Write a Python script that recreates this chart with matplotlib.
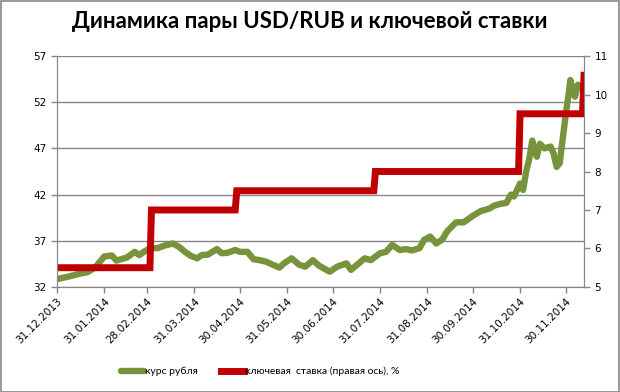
import pandas as pd
import matplotlib
matplotlib.use('Agg')
import matplotlib.pyplot as plt
import matplotlib.dates as mdates
from matplotlib.patches import Rectangle

# USD/RUB rate
usd_dates = ['2013-12-31', '2014-01-07', '2014-01-14', '2014-01-20', '2014-01-25', '2014-01-29',
             '2014-01-31', '2014-02-05', '2014-02-08', '2014-02-11', '2014-02-15', '2014-02-20',
             '2014-02-23', '2014-02-26', '2014-03-02', '2014-03-07', '2014-03-12', '2014-03-17',
             '2014-03-21', '2014-03-25', '2014-03-29', '2014-04-02', '2014-04-05', '2014-04-09',
             '2014-04-12', '2014-04-15', '2014-04-18', '2014-04-22', '2014-04-27', '2014-04-30',
             '2014-05-05', '2014-05-09', '2014-05-13', '2014-05-17', '2014-05-21', '2014-05-26',
             '2014-05-29', '2014-06-03', '2014-06-08', '2014-06-12', '2014-06-17', '2014-06-21',
             '2014-06-28', '2014-07-03', '2014-07-09', '2014-07-12', '2014-07-16', '2014-07-21',
             '2014-07-25', '2014-07-31', '2014-08-04', '2014-08-08', '2014-08-13', '2014-08-17',
             '2014-08-21', '2014-08-26', '2014-08-29', '2014-09-02', '2014-09-06', '2014-09-10',
             '2014-09-13', '2014-09-19', '2014-09-24', '2014-09-30', '2014-10-05', '2014-10-11',
             '2014-10-14', '2014-10-18', '2014-10-22', '2014-10-25', '2014-10-27', '2014-10-31',
             '2014-11-02', '2014-11-04', '2014-11-06', '2014-11-08', '2014-11-10', '2014-11-11',
             '2014-11-13', '2014-11-16', '2014-11-20', '2014-11-22', '2014-11-24', '2014-11-26',
             '2014-11-29', '2014-12-01', '2014-12-02', '2014-12-03', '2014-12-05', '2014-12-06',
             '2014-12-08']
usd_rub = [32.85, 33.1, 33.4, 33.6, 34.1, 34.9,
           35.3, 35.4, 34.85, 35.0, 35.2, 35.8,
           35.45, 35.8, 36.2, 36.2, 36.5, 36.7,
           36.35, 35.8, 35.35, 35.1, 35.45, 35.5,
           35.8, 36.1, 35.65, 35.7, 36.0, 35.8,
           35.8, 35.0, 34.9, 34.75, 34.45, 34.1,
           34.55, 35.1, 34.4, 34.2, 34.9, 34.3,
           33.65, 34.2, 34.55, 33.85, 34.4, 35.1,
           34.9, 35.65, 35.8, 36.55, 36.0, 36.1,
           35.95, 36.2, 37.1, 37.45, 36.7, 37.15,
           38.0, 39.0, 39.0, 39.7, 40.2, 40.5,
           40.8, 41.0, 41.1, 42.0, 41.8, 43.2,
           42.5, 44.5, 45.85, 47.85, 46.5, 46.1,
           47.5, 47.0, 47.2, 46.45, 45.0, 45.4,
           49.35, 51.9, 53.0, 54.4, 53.0, 52.6,
           53.9]

# key rate, %
key_dates = ['2013-12-31', '2014-03-02', '2014-03-03', '2014-04-27', '2014-04-28',
             '2014-07-27', '2014-07-28', '2014-10-30', '2014-10-31', '2014-12-11', '2014-12-12']
key_rate = [5.5, 5.5, 7.0, 7.0, 7.5, 7.5, 8.0, 8.0, 9.5, 9.5, 10.5]

tick_dates = ['2013-12-31', '2014-01-31', '2014-02-28', '2014-03-31', '2014-04-30', '2014-05-31',
              '2014-06-30', '2014-07-31', '2014-08-31', '2014-09-30', '2014-10-31', '2014-11-30']

green = '#77933C'
red = '#C00000'
grid = '#868686'

fig = plt.figure(figsize=(6.2, 3.92), dpi=100)
ax = fig.add_axes([0.092, 0.268, 0.850, 0.589])
ax2 = ax.twinx()  # secondary axis drawn on top, as in the original

l1, = ax.plot(pd.to_datetime(usd_dates), usd_rub, color=green, lw=4.6,
              solid_joinstyle='round', solid_capstyle='round', label='курс рубля')
l2, = ax2.plot(pd.to_datetime(key_dates), key_rate, color=red, lw=5,
               solid_joinstyle='miter', label='ключевая  ставка (правая ось), %')

ax.set_xlim(pd.Timestamp('2013-12-31'), pd.Timestamp('2014-12-12'))
ax.set_ylim(32, 57)
ax.set_yticks(range(32, 58, 5))
ax2.set_ylim(5, 11)
ax2.set_yticks(range(5, 12))

ax.yaxis.grid(True, color=grid, lw=1)
ax.set_axisbelow(True)

ax.set_xticks(pd.to_datetime(tick_dates))
ax.xaxis.set_major_formatter(mdates.DateFormatter('%d.%m.%Y'))
for lab in ax.get_xticklabels():
    lab.set_rotation(45)
    lab.set_ha('right')
    lab.set_rotation_mode('anchor')

for a in (ax, ax2):
    for s in a.spines.values():
        s.set_color(grid)
    a.spines['top'].set_visible(False)
    a.tick_params(colors=grid, labelcolor='black', labelsize=7.5, length=4, width=1)
ax.tick_params(axis='x', pad=3)

fig.text(0.5, 0.944, 'Динамика пары USD/RUB и ключевой ставки', ha='center', va='center',
         fontsize=16, fontweight='bold', family='Lato')

fig.legend(handles=[l1, l2], loc='center', bbox_to_anchor=(0.42, 0.052), ncol=2, frameon=False,
           prop={'family': 'Lato', 'size': 7.5}, handlelength=2.2, handletextpad=0.1,
           columnspacing=2.2)

fig.patches.append(Rectangle((0.001, 0.001), 0.997, 0.997, transform=fig.transFigure,
                             fill=False, edgecolor=grid, lw=1.2))

plt.savefig('out.png', dpi=100)
